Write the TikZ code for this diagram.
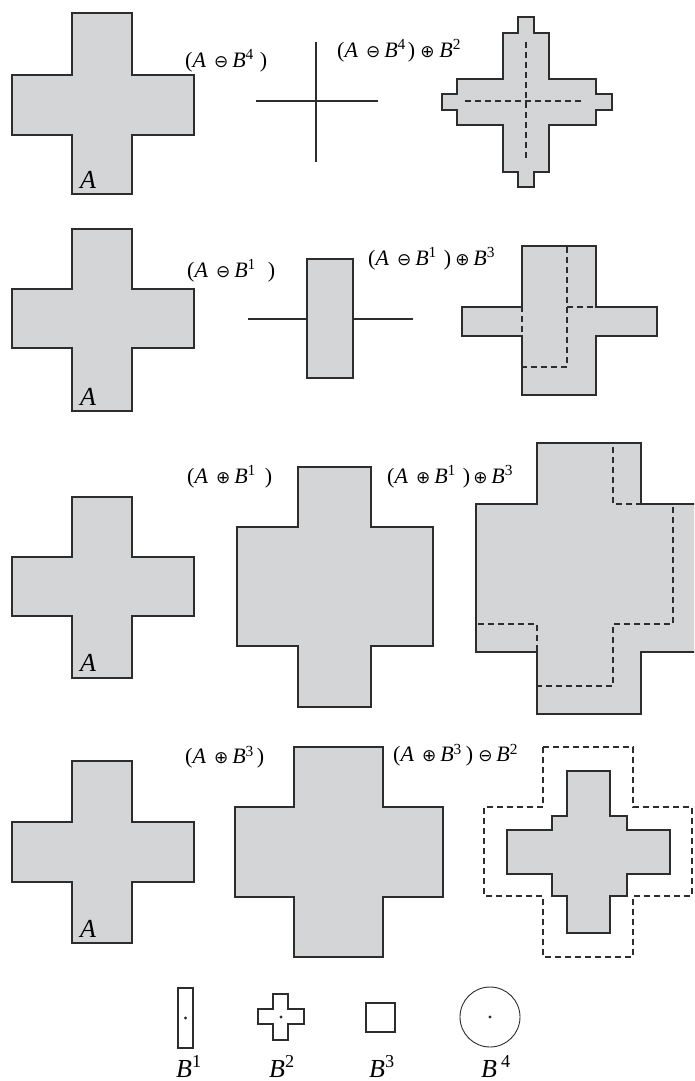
\documentclass[tikz,border=0pt]{standalone}
\usepackage{fontspec}
\setmainfont{Liberation Serif}
\newfontfamily\symfnt{DejaVu Sans}
\definecolor{shapefill}{RGB}{212,213,215}
\definecolor{edge}{RGB}{45,45,45}
\newcommand\xcrosspath[8]{(#2,#5) -- (#3,#5) -- (#3,#6) -- (#4,#6) -- (#4,#7) -- (#3,#7) -- (#3,#8) -- (#2,#8) -- (#2,#7) -- (#1,#7) -- (#1,#6) -- (#2,#6) -- cycle}
\newcommand\xom{{\symfnt\fontsize{17}{19}\selectfont ⊖}}
\newcommand\xop{{\symfnt\fontsize{17}{19}\selectfont ⊕}}
% (A op B^n) with spacing like the reference; #3 = space before ")"
\newcommand\xterm[3]{(\textit{A}\hspace{8pt}#1\hspace{4pt}\textit{B}\textsuperscript{#2}\hspace{#3})}
\tikzset{
 shp/.style={fill=shapefill,draw=edge,line width=1.2pt,line join=miter},
 dsh/.style={draw=edge,line width=1.1pt,dash pattern=on 6pt off 4pt},
 solidline/.style={draw=edge,line width=1.1pt},
 lbl/.style={inner sep=0pt,anchor=west,font=\fontsize{22}{24}\selectfont},
 biga/.style={inner sep=0pt,font=\fontsize{26}{28}\selectfont\itshape},
 leg/.style={inner sep=0pt,anchor=base west,font=\fontsize{26}{28}\selectfont},
 dotmark/.style={fill=edge,circle,inner sep=0pt,minimum size=3.2pt},
}
\begin{document}
\begin{tikzpicture}[x=1pt,y=-1pt]
\clip (0,0) rectangle (694,1081);
\fill[white] (0,0) rectangle (694,1081);
% ---------- Row 1 ----------
\draw[shp] \xcrosspath{12}{72}{132}{194}{13}{75}{135}{194};
\node[biga] (a1) at (88,180) {A};
\coordinate (e1t) at (316,42); \coordinate (e1b) at (316,162);
\coordinate (e1l) at (256,101); \coordinate (e1r) at (378,101);
\draw[solidline] (e1t) -- (e1b);
\draw[solidline] (e1l) -- (e1r);
\draw[shp] (518,17) -- (534,17) -- (534,33) -- (549,33) -- (549,79) -- (596,79) -- (596,94) -- (612,94) -- (612,110) -- (596,110) -- (596,125) -- (549,125) -- (549,172) -- (534,172) -- (534,187) -- (518,187) -- (518,172) -- (503,172) -- (503,125) -- (457,125) -- (457,110) -- (442,110) -- (442,94) -- (457,94) -- (457,79) -- (503,79) -- (503,33) -- (518,33) -- cycle;
\coordinate (d1t) at (526,42); \coordinate (d1b) at (526,158);
\coordinate (d1l) at (465,101); \coordinate (d1r) at (582,101);
\draw[dsh] (d1t) -- (d1b);
\draw[dsh] (d1l) -- (d1r);
\node[lbl] (l1a) at (185,61) {\xterm{\xom}{4}{6pt}};
\node[lbl] (l1b) at (337,51) {\xterm{\xom}{4}{2pt}\hspace{5pt}\xop\hspace{5pt}\textit{B}\textsuperscript{2}};
% ---------- Row 2 ----------
\draw[shp] \xcrosspath{12}{72}{132}{194}{229}{289}{348}{411};
\node[biga] (a2) at (88,397) {A};
\draw[shp] (307,259) rectangle (353,378);
\coordinate (e2l) at (248,319); \coordinate (e2a) at (307,319);
\coordinate (e2b) at (353,319); \coordinate (e2r) at (413,319);
\draw[solidline] (e2l) -- (e2a);
\draw[solidline] (e2b) -- (e2r);
\draw[shp] (522,246) -- (596,246) -- (596,307) -- (657,307) -- (657,336) -- (596,336) -- (596,395) -- (522,395) -- (522,336) -- (462,336) -- (462,307) -- (522,307) -- cycle;
\draw[dsh] (522,246) rectangle (567,367);
\coordinate (d2l) at (462,307); \coordinate (d2a) at (522,307);
\coordinate (d2b) at (567,307); \coordinate (d2r) at (628,307);
\draw[dsh] (d2l) -- (d2a);
\draw[dsh] (d2b) -- (d2r);
\node[lbl] (l2a) at (187,271) {\xterm{\xom}{1}{12pt}};
\node[lbl] (l2b) at (368,259) {\xterm{\xom}{1}{7pt}\hspace{4pt}\xop\hspace{4pt}\textit{B}\textsuperscript{3}};
% ---------- Row 3 ----------
\draw[shp] \xcrosspath{12}{72}{132}{194}{497}{557}{616}{678};
\node[biga] (a3) at (88,663) {A};
\draw[shp] \xcrosspath{237}{298}{371}{433}{467}{527}{646}{707};
\draw[shp] \xcrosspath{476}{537}{641}{702}{443}{504}{652}{714};
\draw[dsh] \xcrosspath{476}{537}{613}{673}{443}{504}{624}{686};
\node[lbl] (l3a) at (187,477) {\xterm{\xop}{1}{9pt}};
\node[lbl] (l3b) at (387,477) {\xterm{\xop}{1}{7pt}\hspace{3pt}\xop\hspace{4pt}\textit{B}\textsuperscript{3}};
% ---------- Row 4 ----------
\draw[shp] \xcrosspath{12}{72}{132}{194}{761}{822}{882}{943};
\node[biga] (a4) at (88,929) {A};
\draw[shp] \xcrosspath{235}{294}{383}{443}{747}{807}{897}{957};
\draw[dsh] \xcrosspath{484}{543}{633}{692}{747}{807}{896}{957};
\draw[shp] (567,771) -- (610,771) -- (610,816) -- (627,816) -- (627,830) -- (670,830) -- (670,874) -- (627,874) -- (627,896) -- (610,896) -- (610,933) -- (567,933) -- (567,896) -- (552,896) -- (552,874) -- (507,874) -- (507,830) -- (552,830) -- (552,816) -- (567,816) -- cycle;
\node[lbl] (l4a) at (185,757) {\xterm{\xop}{3}{3pt}};
\node[lbl] (l4b) at (393,755) {\xterm{\xop}{3}{4pt}\hspace{5pt}\xom\hspace{4pt}\textit{B}\textsuperscript{2}};
% ---------- Legend ----------
\draw[edge,line width=1.1pt] (178,988) rectangle (193,1048);
\node[dotmark] (p1) at (185.5,1018) {};
\draw[edge,line width=1.1pt] \xcrosspath{258}{273}{288}{304}{994}{1009}{1024}{1040};
\node[dotmark] (p2) at (281,1017) {};
\draw[edge,line width=1.1pt] (366,1003) rectangle (395,1032);
\draw[edge,line width=0.9pt] (490,1017) circle (30);
\node[dotmark] (p4) at (490,1017) {};
\node[leg] (b1) at (176,1077) {\textit{B}\textsuperscript{1}};
\node[leg] (b2) at (269,1077) {\textit{B}\textsuperscript{2}};
\node[leg] (b3) at (369,1077) {\textit{B}\textsuperscript{3}};
\node[leg] (b4) at (481,1077) {\textit{B}\hspace{4pt}\textsuperscript{4}};
\end{tikzpicture}
\end{document}
